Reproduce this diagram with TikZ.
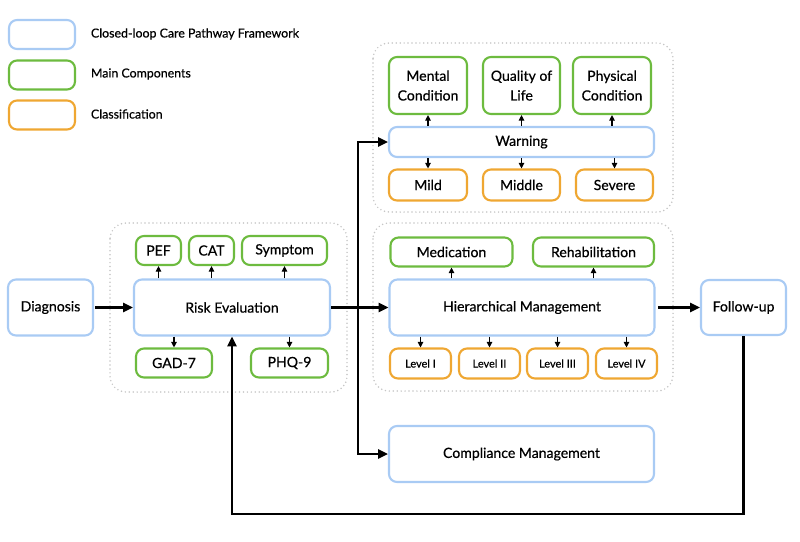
\documentclass[tikz,border=0pt]{standalone}
\usepackage{fontspec}
\setmainfont{Lato}[FakeBold=0.5]
\usetikzlibrary{arrows.meta}
\definecolor{pathBlue}{HTML}{A9CBF4}
\definecolor{compGreen}{HTML}{6DBB3F}
\definecolor{classOrange}{HTML}{EFA732}
\definecolor{groupGray}{HTML}{C6C6C6}
\newcommand\px{0.025cm}
\newcommand\rowTop{250.5}
\newcommand\rowMid{307.5}
\newcommand\rowLow{363}
\newcommand\splitX{358}

\begin{document}
\begin{tikzpicture}[x=\px, y=-\px,
    pathbox/.style={draw=pathBlue, line width=1.5pt, rounded corners=0.2cm, fill=white,
      align=center, inner sep=0pt, font=\fontsize{10}{14}\selectfont},
    compbox/.style={pathbox, draw=compGreen},
    classbox/.style={pathbox, draw=classOrange},
    group/.style={draw=groupGray, line width=1.2pt, dash pattern=on 0pt off 2.8pt,
      line cap=round, rounded corners=0.4cm},
    mainarrow/.style={line width=1.6pt, -{Triangle[length=7pt,width=6.5pt]}},
    subarrow/.style={line width=0.8pt, -{Triangle[length=4pt,width=4pt]}},
    legendtext/.style={anchor=west, font=\fontsize{8.8}{10}\selectfont}]

    \useasboundingbox (0,0) rectangle (800,541);

    % legend
    \node[pathbox, minimum width=66*\px, minimum height=29*\px] (lgBlue) at (42,34.5) {};
    \node[compbox, minimum width=66*\px, minimum height=29*\px] (lgGreen) at (42,75) {};
    \node[classbox, minimum width=66*\px, minimum height=29*\px] (lgOrange) at (42,115) {};
    \node[legendtext] (lgBlueTxt) at (86,34) {Closed-loop Care Pathway Framework};
    \node[legendtext] (lgGreenTxt) at (86,74) {Main Components};
    \node[legendtext] (lgOrangeTxt) at (86,114) {Classification};

    % groups
    \draw[group] (110,223) rectangle (347,392);
    \draw[group] (373,43) rectangle (673,212);
    \draw[group] (373,223) rectangle (673,391);

    % evaluation
    \node[pathbox, minimum width=85*\px, minimum height=56*\px] (diag) at (50.5,\rowMid) {Diagnosis};
    \node[pathbox, minimum width=196*\px, minimum height=56*\px] (risk) at (232,\rowMid) {Risk Evaluation};
    \node[compbox, minimum width=45*\px, minimum height=29*\px] (pef) at (158.5,\rowTop) {PEF};
    \node[compbox, minimum width=45*\px, minimum height=29*\px] (cat) at (211.5,\rowTop) {CAT};
    \node[compbox, minimum width=85*\px, minimum height=29*\px] (symp) at (284.5,\rowTop) {Symptom};
    \node[compbox, minimum width=76*\px, minimum height=29*\px] (gad) at (174,\rowLow) {GAD-7};
    \node[compbox, minimum width=77*\px, minimum height=29*\px] (phq) at (289.5,\rowLow) {PHQ-9};

    % warning
    \node[compbox, minimum width=78*\px, minimum height=57*\px] (mental) at (428,85.5) {Mental\\Condition};
    \node[compbox, minimum width=77*\px, minimum height=57*\px] (quality) at (521.5,85.5) {Quality of\\Life};
    \node[compbox, minimum width=78*\px, minimum height=57*\px] (physical) at (612,85.5) {Physical\\Condition};
    \node[pathbox, minimum width=265*\px, minimum height=30*\px] (warn) at (521.5,142) {Warning};
    \node[classbox, minimum width=78*\px, minimum height=31*\px] (mild) at (428,185) {Mild};
    \node[classbox, minimum width=77*\px, minimum height=31*\px] (middle) at (521.5,185) {Middle};
    \node[classbox, minimum width=77*\px, minimum height=31*\px] (severe) at (614.5,185) {Severe};

    % management
    \node[compbox, minimum width=122*\px, minimum height=29*\px] (medic) at (451.5,252) {Medication};
    \node[compbox, minimum width=121*\px, minimum height=29*\px] (rehab) at (593.5,252) {Rehabilitation};
    \node[pathbox, minimum width=265*\px, minimum height=56*\px] (hier) at (522,\rowMid) {Hierarchical Management};
    \node[classbox, minimum width=61*\px, minimum height=30*\px, font=\fontsize{7.8}{9}\selectfont] (lvOne) at (420.5,363.5) {Level I};
    \node[classbox, minimum width=61*\px, minimum height=30*\px, font=\fontsize{7.8}{9}\selectfont] (lvTwo) at (489.5,363.5) {Level II};
    \node[classbox, minimum width=61*\px, minimum height=30*\px, font=\fontsize{7.8}{9}\selectfont] (lvThree) at (557.5,363.5) {Level III};
    \node[classbox, minimum width=61*\px, minimum height=30*\px, font=\fontsize{7.8}{9}\selectfont] (lvFour) at (626.5,363.5) {Level IV};
    \node[pathbox, minimum width=85*\px, minimum height=55*\px] (follow) at (743.5,\rowMid) {Follow-up};
    \node[pathbox, minimum width=265*\px, minimum height=56*\px] (comp) at (521.5,454) {Compliance Management};

    \coordinate (split) at (\splitX,\rowMid);
    \coordinate (loopBot) at (232,514);

    % small arrows
    \foreach \up in {pef,cat,symp}
      \draw[subarrow] (\up|-risk.north) -- (\up.south);
    \foreach \down in {gad,phq}
      \draw[subarrow] (\down|-risk.south) -- (\down.north);
    \foreach \up in {mental,quality,physical}
      \draw[subarrow] (\up|-warn.north) -- (\up.south);
    \foreach \down in {mild,middle,severe}
      \draw[subarrow] (\down|-warn.south) -- (\down.north);
    \foreach \up in {medic,rehab}
      \draw[subarrow] (\up|-hier.north) -- (\up.south);
    \foreach \down in {lvOne,lvTwo,lvThree,lvFour}
      \draw[subarrow] (\down|-hier.south) -- (\down.north);

    % main flow
    \draw[mainarrow, shorten <=1pt] (diag.east) -- (risk.west);
    \draw[mainarrow] (risk.east) -- (hier.west);
    \draw[mainarrow] (split) |- (warn.west);
    \draw[mainarrow] (split) |- (comp.west);
    \draw[mainarrow, shorten <=2pt] (hier.east) -- (follow.west);
    \draw[mainarrow] (follow.south) |- (loopBot) -- (risk.south);

  \end{tikzpicture}
\end{document}
